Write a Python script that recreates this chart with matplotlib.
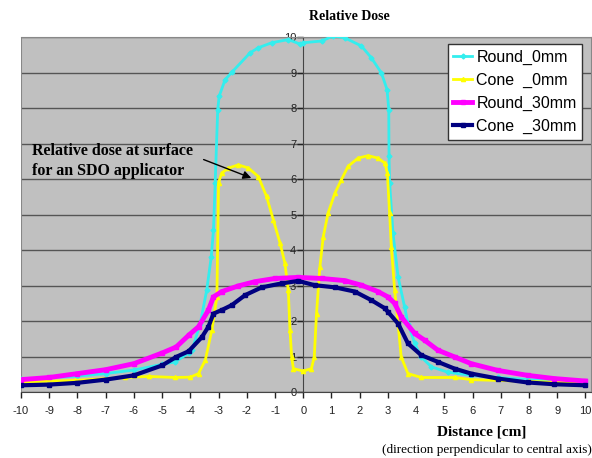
import numpy as np
import matplotlib
matplotlib.use("Agg")
import matplotlib.pyplot as plt

plt.rcParams["axes.unicode_minus"] = False
plt.rcParams["font.family"] = ["Liberation Sans", "DejaVu Sans"]

# values (distance in cm, relative dose)
round0_x = [-10, -9, -8, -7, -6, -5, -4.53, -4.06, -3.94, -3.65, -3.42, -3.26, -3.18, -3.12,
            -3.03, -2.98, -2.77, -2.53, -1.88, -1.59, -1.12, -0.53, -0.1, 0.0, 0.65, 1.06,
            1.47, 2.06, 2.41, 2.77, 2.97, 3.03, 3.04, 3.06, 3.18, 3.36, 3.59, 3.71, 3.95,
            4.18, 4.54, 5.12, 5.95, 6.89, 7.95, 8.89, 10]
round0_y = [0.37, 0.4, 0.45, 0.52, 0.62, 0.78, 0.85, 1.1, 1.18, 1.93, 2.87, 3.81, 4.57, 5.9,
            7.96, 8.33, 8.8, 9.01, 9.56, 9.7, 9.84, 9.93, 9.8, 9.84, 9.89, 10.03,
            9.98, 9.75, 9.42, 8.99, 8.52, 7.96, 6.64, 5.9, 4.47, 3.25, 2.4, 1.93, 1.37,
            0.99, 0.71, 0.56, 0.47, 0.41, 0.35, 0.31, 0.25]

cone0_x = [-10, -8.07, -6.3, -5.48, -4.53, -4.0, -3.71, -3.47, -3.24, -3.06, -3.0, -2.89,
           -2.65, -2.3, -1.94, -1.59, -1.3, -1.06, -0.82, -0.65, -0.53, -0.47, -0.41, -0.35,
           0.0, 0.29, 0.39, 0.47, 0.59, 0.71, 0.88, 1.12, 1.35, 1.59, 1.94, 2.3, 2.65, 2.89,
           2.98, 3.06, 3.12, 3.24, 3.36, 3.47, 3.71, 4.18, 5.36, 5.95, 8, 10]
cone0_y = [0.28, 0.33, 0.41, 0.44, 0.41, 0.42, 0.52, 0.9, 1.74, 2.68, 5.9, 6.17,
           6.31, 6.4, 6.31, 6.07, 5.51, 4.85, 4.19, 3.63, 2.87, 1.74, 0.99, 0.66,
           0.59, 0.66, 0.99, 2.21, 3.53, 4.38, 5.04, 5.6, 5.98, 6.36, 6.59, 6.66, 6.59, 6.45,
           6.17, 5.04, 4.1, 2.87, 1.93, 0.99, 0.52, 0.41, 0.41, 0.35, 0.3, 0.25]

round30_x = [-10, -9, -8, -7, -6, -5, -4.5, -4.06, -3.71, -3.36, -3.18, -2.89, -2.3, -1.71,
             -1.0, -0.18, 0.65, 1.47, 2.06, 2.65, 3.0, 3.24, 3.47, 3.95, 4.3, 4.77, 5.36,
             5.95, 6.89, 7.95, 8.89, 10]
round30_y = [0.35, 0.41, 0.52, 0.63, 0.8, 1.1, 1.27, 1.6, 1.84, 2.31, 2.68, 2.83, 2.99, 3.11,
             3.2, 3.23, 3.2, 3.14, 3.01, 2.83, 2.68, 2.5, 2.12, 1.65, 1.46, 1.18, 0.99,
             0.8, 0.61, 0.47, 0.38, 0.31]

cone30_x = [-10, -9, -8, -7, -6, -5, -4.5, -4.06, -3.59, -3.36, -3.18, -2.89, -2.53, -2.06,
            -1.47, -0.77, -0.18, 0.41, 1.12, 1.83, 2.41, 2.89, 3.0, 3.36, 3.71, 4.18, 4.77,
            5.36, 5.95, 6.89, 7.95, 8.89, 10]
cone30_y = [0.19, 0.21, 0.26, 0.35, 0.47, 0.75, 0.99, 1.15, 1.55, 1.84, 2.21, 2.31, 2.45, 2.73,
            2.95, 3.06, 3.13, 3.01, 2.95, 2.83, 2.59, 2.36, 2.26, 1.93, 1.37, 1.04, 0.85,
            0.66, 0.52, 0.38, 0.27, 0.22, 0.19]

labels = ["Round_0mm", "Cone  _0mm", "Round_30mm", "Cone  _30mm"]
colors = ["#33EEEE", "#FFFF00", "#FF00FF", "#000080"]

fig = plt.figure(figsize=(5.92, 4.58), dpi=100)
ax = fig.add_axes([0.0355, 0.144, 0.963, 0.775])
ax.set_facecolor("#C0C0C0")

ax.plot(round0_x, round0_y, color=colors[0], lw=2, marker="D", ms=2.5, label=labels[0], zorder=3)
ax.plot(cone0_x, cone0_y, color=colors[1], lw=2, marker="^", ms=3, label=labels[1], zorder=3)
ax.plot(round30_x, round30_y, color=colors[2], lw=3.5, marker="s", ms=3, label=labels[2], zorder=4)
ax.plot(cone30_x, cone30_y, color=colors[3], lw=3, marker="s", ms=2.5, label=labels[3], zorder=5)

ax.set_xlim(-10, 10.2)
ax.set_ylim(0, 10)
ax.set_xticks(range(-10, 11))
ax.set_yticks(range(0, 11))
ax.grid(axis="y", color="#555555", lw=1)
ax.set_axisbelow(True)

for side in ["top", "right"]:
    ax.spines[side].set_color("#888888")
ax.spines["left"].set_position(("data", 0))
ax.spines["left"].set_color("#444444")
ax.spines["bottom"].set_color("#444444")
ax.tick_params(axis="both", labelsize=8, colors="#222222", length=4, width=1)
ax.tick_params(axis="y", pad=1)
ax.tick_params(axis="x", pad=6)

# outer left border of the plot area
ax.axvline(-10, color="#888888", lw=1.5)

ax.annotate("", xy=(-1.84, 6.03), xytext=(-3.53, 6.55),
            arrowprops=dict(arrowstyle="-|>", color="black", lw=1, mutation_scale=12,
                            shrinkA=0, shrinkB=0))
ax.text(-9.6, 6.5, "Relative dose at surface\nfor an SDO applicator",
        fontsize=11.5, fontweight="bold", family="Liberation Serif",
        ha="left", va="center", linespacing=1.35)

leg = ax.legend(loc="upper right", bbox_to_anchor=(0.99, 0.99), prop={"size": 11.5},
                fancybox=False, edgecolor="#333333", framealpha=1, handlelength=1.2,
                handletextpad=0.25, borderpad=0.35, labelspacing=0.5, borderaxespad=0.2)
leg.get_frame().set_linewidth(1)

fig.text(0.59, 0.963, "Relative Dose", fontsize=10, fontweight="bold",
         family="Liberation Serif", ha="center", va="center")
fig.text(0.814, 0.057, "Distance [cm]", fontsize=11, fontweight="bold",
         family="Liberation Serif", ha="center", va="center")
fig.text(0.999, 0.017, "(direction perpendicular to central axis)", fontsize=9.5,
         family="Liberation Serif", ha="right", va="center")

fig.savefig("out.png", dpi=100)
